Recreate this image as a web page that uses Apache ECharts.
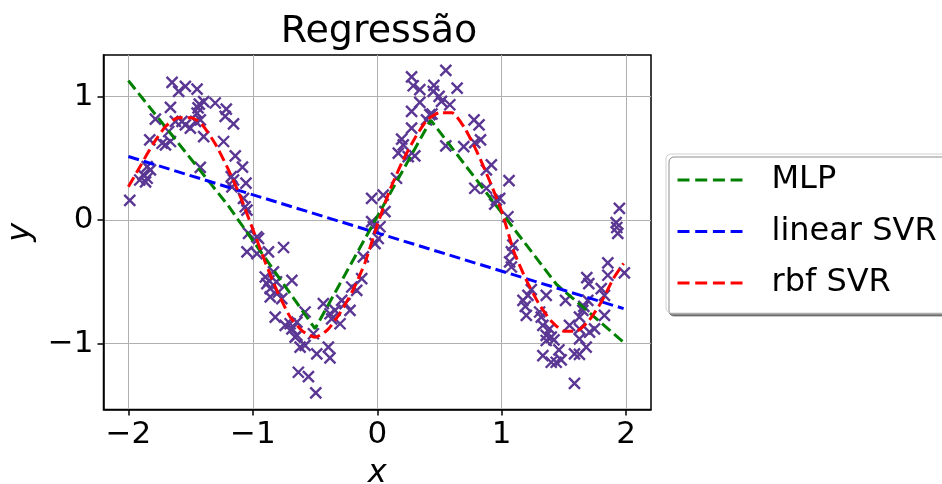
<!DOCTYPE html>
<html>
<head>
<meta charset="utf-8">
<script src="https://cdn.jsdelivr.net/npm/echarts@6/dist/echarts.min.js"></script>
<style>
  html, body { margin: 0; padding: 0; background: #fff; }
  #chart { width: 942px; height: 484px; }
</style>
</head>
<body>
<div id="chart"></div>
<script>
// Noisy samples of the target function
const pointX = [
  -1.989, -1.649, -1.596, -1.542, -1.448, -1.430, -1.395, -1.302, -1.213, -1.222,
  -1.155, -1.662, -1.783, -1.622, -1.569, -1.542, -1.502, -1.448, -1.422, -1.460,
  -1.395, -1.676, -1.828, -1.729, -1.702, -1.662, -1.235, -1.141, -1.083, -1.422,
  -1.849, -1.823, -1.881, -1.849, -1.909, -1.862, -1.173, -1.155, -1.055, -1.168,
  -1.075, -1.061, -1.047, -1.440,
  -1.034, -1.047, -0.954, -0.967, -0.874, -0.753, -0.900, -0.834, -0.887, -0.860,
  -0.860, -0.794, -0.767, -0.686, -0.820, -0.740, -0.700, -0.646, -0.646, -0.620,
  -0.580, -0.580, -0.513, -0.486, -0.634, -0.553, -0.494, -0.393, -0.380, -0.433,
  -0.380, -0.339, -0.366, -0.299, -0.286, -0.259, -0.219, -0.205, -0.165, -0.125,
  -0.112, -0.032, -0.018, -0.967, -0.870, -0.810, -0.686, -0.660,
  -0.045, -0.045, 0.048, 0.062, 0.022, 0.008, 0.155, 0.169, 0.196, 0.209,
  0.249, 0.302, 0.276, 0.276, 0.276, 0.289, 0.342, 0.342, 0.396, 0.423,
  0.450, 0.455, 0.497, 0.516, 0.551, 0.583, 0.642, 0.551, 0.695, 0.778,
  0.818, 0.830, 0.784, 0.877, 0.917, 0.784, 0.877, 0.957, 1.059, 0.984,
  0.944, 1.050, 0.440,
  1.090, 1.078, 1.064, 1.078, 1.946, 1.920, 1.925, 1.933, 1.853, 1.853,
  1.986, 1.684, 1.700, 1.800, 1.238, 1.211, 1.171, 1.358, 1.513, 1.692,
  1.826, 1.198, 1.305, 1.318, 1.652, 1.625, 1.826, 1.331, 1.545, 1.385,
  1.706, 1.746, 1.625, 1.358, 1.398, 1.358, 1.625, 1.679, 1.460, 1.331,
  1.585, 1.625, 1.398, 1.438, 1.478, 1.585, 1.190, 1.420, 1.660
];
const pointY = [
  0.160, 1.116, 1.043, 1.084, 1.062, 0.940, 0.960, 0.949, 0.900, 0.840,
  0.780, 0.913, 0.819, 0.800, 0.800, 0.772, 0.745, 0.867, 0.813, 0.800,
  0.677, 0.718, 0.650, 0.623, 0.610, 0.637, 0.637, 0.520, 0.430, 0.428,
  0.433, 0.407, 0.366, 0.339, 0.325, 0.310, 0.352, 0.325, 0.300, 0.270,
  0.176, 0.108, 0.081, 0.910,
  -0.108, -0.258, -0.149, -0.271, -0.258, -0.222, -0.461, -0.420, -0.515, -0.555,
  -0.623, -0.583, -0.637, -0.488, -0.786, -0.854, -0.840, -0.827, -0.935, -1.030,
  -1.016, -0.745, -0.921, -1.084, -1.233, -1.268, -1.401, -1.030, -1.116, -0.677,
  -0.759, -0.732, -0.800, -0.840, -0.650, -0.677, -0.732, -0.542, -0.569, -0.474,
  -0.298, -0.054, -0.190, -0.136, -0.490, -0.500, -0.881, -0.949,
  0.176, -0.013, 0.203, 0.068, -0.054, -0.149, 0.339, 0.542, 0.656, 0.610,
  0.515, 0.520, 0.745, 0.881, 1.160, 1.089, 1.057, 0.954, 0.813, 0.854,
  1.043, 1.092, 1.002, 0.962, 1.214, 0.935, 1.070, 0.602, 0.596, 0.813,
  0.772, 0.650, 0.628, 0.407, 0.447, 0.258, 0.258, 0.163, 0.320, 0.176,
  0.130, 0.027, 0.860,
  -0.203, -0.258, -0.339, -0.380, 0.095, -0.020, -0.060, -0.108, -0.347, -0.447,
  -0.428, -0.466, -0.515, -0.555, -0.563, -0.610, -0.650, -0.610, -0.650, -0.650,
  -0.610, -0.772, -0.745, -0.786, -0.732, -0.786, -0.772, -0.854, -0.854, -0.881,
  -0.908, -0.881, -0.881, -0.935, -0.949, -0.976, -0.962, -1.030, -1.051, -1.098,
  -1.084, -1.089, -1.152, -1.152, -1.133, -1.323, -0.700, -0.970, -0.700
];

// Model predictions over the sorted inputs
const mlpX = [-2.0, -1.2, -0.5, 0.43, 1.44, 1.98];
const mlpY = [1.13, 0.12, -0.88, 0.81, -0.52, -0.99];

const linX = [-2.0, 1.98];
const linY = [0.515, -0.717];

const rbfX = [-2.0, -1.9, -1.8, -1.7, -1.6, -1.5, -1.42, -1.3, -1.2, -1.1,
  -1.0, -0.9, -0.8, -0.7, -0.6, -0.5, -0.4, -0.3, -0.2, -0.1,
  0.0, 0.1, 0.2, 0.3, 0.4, 0.5, 0.6, 0.7, 0.8, 0.9,
  1.0, 1.1, 1.2, 1.3, 1.4, 1.5, 1.6, 1.7, 1.8, 1.9, 1.98];
const rbfY = [0.27, 0.445, 0.62, 0.76, 0.83, 0.83, 0.79, 0.615, 0.417, 0.19,
  -0.074, -0.342, -0.585, -0.785, -0.90, -0.95, -0.89, -0.755, -0.577, -0.35,
  -0.04, 0.24, 0.47, 0.66, 0.81, 0.87, 0.87, 0.75, 0.556, 0.325,
  0.07, -0.26, -0.49, -0.68, -0.82, -0.90, -0.90, -0.815, -0.665, -0.47, -0.35];

const xTicks = [-2, -1, 0, 1, 2];
const yTicks = [-1, 0, 1];

const FONT = 'DejaVu Sans';
const pair = (xs, ys) => xs.map((x, i) => [x, ys[i]]);
const signed = v => (v < 0 ? '\u2212' + Math.abs(v) : String(v));
const CROSS = 'path://M0,0L10,10M10,0L0,10';

const chart = echarts.init(document.getElementById('chart'), null, { renderer: 'canvas' });

const dashed = color => ({ color: color, width: 3, type: [11, 5], cap: 'butt' });

const axisCommon = ticks => ({
  type: 'value',
  nameLocation: 'middle',
  nameTextStyle: { fontFamily: FONT, fontStyle: 'italic', fontSize: 32, color: '#000' },
  axisLine: { show: true, onZero: false, lineStyle: { color: '#000', width: 1.5 } },
  axisTick: { show: true, inside: false, length: 6, lineStyle: { color: '#000', width: 1.5 }, customValues: ticks },
  axisLabel: { customValues: ticks, formatter: signed, fontFamily: FONT, fontSize: 31, color: '#000', margin: 10 },
  splitLine: { show: true, lineStyle: { color: '#b0b0b0', width: 1 } }
});

chart.setOption({
  animation: false,
  backgroundColor: '#fff',
  title: {
    text: 'Regress\u00e3o',
    left: 379,
    textAlign: 'center',
    top: 13,
    padding: 0,
    textStyle: { fontFamily: FONT, fontSize: 38, fontWeight: 'normal', color: '#000' }
  },
  grid: {
    left: 103.5, right: 291, top: 55, bottom: 74.5,
    outerBoundsMode: 'none',
    containLabel: false,
    show: true, borderColor: '#000', borderWidth: 1.5, backgroundColor: 'transparent'
  },
  legend: {
    orient: 'vertical',
    left: 666, top: 154,
    data: ['MLP', 'linear SVR', 'rbf SVR'],
    itemWidth: 65, itemHeight: 14, itemGap: 15.5,
    padding: [8, 30, 12, 10],
    backgroundColor: '#fff',
    borderColor: '#d0d0d0', borderWidth: 1, borderRadius: 5,
    shadowColor: 'rgba(0,0,0,0.45)', shadowOffsetX: 3, shadowOffsetY: 3, shadowBlur: 0,
    itemStyle: { color: 'transparent', borderColor: 'transparent', borderWidth: 0, opacity: 0 },
    lineStyle: { width: 3, type: [12, 5.7], color: 'inherit' },
    textStyle: { fontFamily: FONT, fontSize: 32, color: '#000', padding: [0, 0, 0, 24], lineHeight: 36 }
  },
  xAxis: Object.assign(axisCommon(xTicks), { min: -2.2, max: 2.2, name: 'x', nameGap: 48 }),
  yAxis: Object.assign(axisCommon(yTicks), { min: -1.535, max: 1.338, name: 'y', nameGap: 63 }),
  series: [
    {
      type: 'scatter', name: 'dados', data: pair(pointX, pointY),
      symbol: CROSS, symbolSize: 11,
      itemStyle: { color: 'transparent', borderColor: '#5b3794', borderWidth: 2.4, opacity: 1 },
      z: 2
    },
    {
      type: 'line', name: 'MLP', data: pair(mlpX, mlpY), symbol: 'none',
      lineStyle: dashed('#008000'), itemStyle: { color: '#008000' }, z: 3
    },
    {
      type: 'line', name: 'linear SVR', data: pair(linX, linY), symbol: 'none',
      lineStyle: dashed('#0000ff'), itemStyle: { color: '#0000ff' }, z: 3
    },
    {
      type: 'line', name: 'rbf SVR', data: pair(rbfX, rbfY), symbol: 'none', smooth: 0.2,
      lineStyle: dashed('#ff0000'), itemStyle: { color: '#ff0000' }, z: 3
    }
  ]
});
</script>
</body>
</html>
